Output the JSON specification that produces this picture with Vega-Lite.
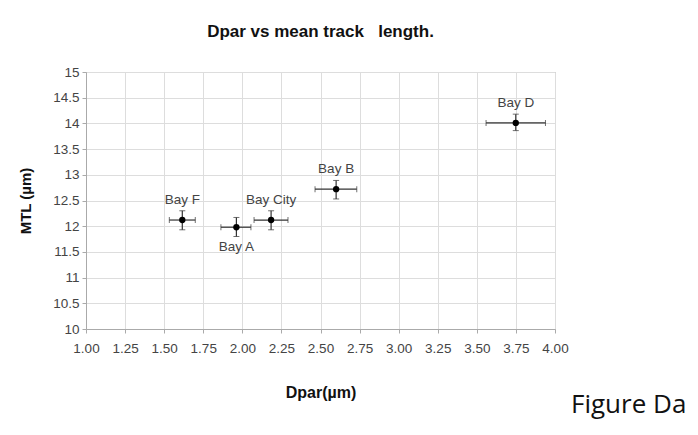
{
  "$schema": "https://vega.github.io/schema/vega-lite/v6.json",
  "autosize": "none",
  "width": 469,
  "height": 257,
  "padding": {"left": 86, "top": 72, "right": 143, "bottom": 106},
  "background": "white",
  "title": {
    "text": "Dpar vs mean track \u00a0 length.",
    "font": "Liberation Sans",
    "fontSize": 17,
    "fontWeight": "bold",
    "color": "#111",
    "anchor": "middle",
    "offset": 24
  },
  "config": {
    "view": {"stroke": "#aaa", "strokeWidth": 1},
    "axis": {
      "labelFont": "Liberation Sans",
      "labelFontSize": 13.5,
      "labelColor": "#444",
      "labelOverlap": false,
      "labelFlush": false,
      "titleFont": "Liberation Sans",
      "titleFontWeight": "bold",
      "titleColor": "#111",
      "domainColor": "#aaa",
      "tickColor": "#aaa",
      "tickSize": 4,
      "grid": true,
      "gridColor": "#ddd"
    },
    "axisX": {"titleFontSize": 16, "labelPadding": 8, "titlePadding": 30},
    "axisY": {"titleFontSize": 15, "labelPadding": 3, "titlePadding": 19}
  },
  "data": {
    "values": [
      {"name": "Bay F", "dpar": 1.616, "mtl": 12.12, "dpar_lo": 1.533, "dpar_hi": 1.699, "mtl_lo": 11.93, "mtl_hi": 12.30, "pos": "above"},
      {"name": "Bay A", "dpar": 1.962, "mtl": 11.98, "dpar_lo": 1.863, "dpar_hi": 2.055, "mtl_lo": 11.80, "mtl_hi": 12.17, "pos": "below"},
      {"name": "Bay City", "dpar": 2.184, "mtl": 12.12, "dpar_lo": 2.075, "dpar_hi": 2.292, "mtl_lo": 11.93, "mtl_hi": 12.30, "pos": "above"},
      {"name": "Bay B", "dpar": 2.600, "mtl": 12.72, "dpar_lo": 2.465, "dpar_hi": 2.732, "mtl_lo": 12.53, "mtl_hi": 12.89, "pos": "above"},
      {"name": "Bay D", "dpar": 3.749, "mtl": 14.01, "dpar_lo": 3.559, "dpar_hi": 3.939, "mtl_lo": 13.86, "mtl_hi": 14.18, "pos": "above"}
    ]
  },
  "layer": [
    {
      "mark": {"type": "errorbar", "ticks": {"size": 6, "thickness": 1, "color": "#333"}, "rule": {"color": "#333", "strokeWidth": 1.2}},
      "encoding": {
        "x": {"field": "dpar_lo", "type": "quantitative", "title": "Dpar(µm)",
              "scale": {"domain": [1, 4], "nice": false, "zero": false},
              "axis": {"values": [1, 1.25, 1.5, 1.75, 2, 2.25, 2.5, 2.75, 3, 3.25, 3.5, 3.75, 4], "format": ".2f"}},
        "x2": {"field": "dpar_hi"},
        "y": {"field": "mtl", "type": "quantitative", "title": "MTL (µm)",
              "scale": {"domain": [10, 15], "nice": false, "zero": false},
              "axis": {"values": [10, 10.5, 11, 11.5, 12, 12.5, 13, 13.5, 14, 14.5, 15], "format": "~g"}}
      }
    },
    {
      "mark": {"type": "errorbar", "ticks": {"size": 6, "thickness": 1, "color": "#333"}, "rule": {"color": "#333", "strokeWidth": 1.2}},
      "encoding": {
        "y": {"field": "mtl_lo", "type": "quantitative", "title": "MTL (µm)",
              "scale": {"domain": [10, 15], "nice": false, "zero": false},
              "axis": {"values": [10, 10.5, 11, 11.5, 12, 12.5, 13, 13.5, 14, 14.5, 15], "format": "~g"}},
        "y2": {"field": "mtl_hi"},
        "x": {"field": "dpar", "type": "quantitative", "title": "Dpar(µm)",
              "scale": {"domain": [1, 4], "nice": false, "zero": false},
              "axis": {"values": [1, 1.25, 1.5, 1.75, 2, 2.25, 2.5, 2.75, 3, 3.25, 3.5, 3.75, 4], "format": ".2f"}}
      }
    },
    {
      "mark": {"type": "point", "filled": true, "color": "black", "size": 40, "opacity": 1},
      "encoding": {
        "x": {"field": "dpar", "type": "quantitative", "title": "Dpar(µm)",
              "scale": {"domain": [1, 4], "nice": false, "zero": false},
              "axis": {"values": [1, 1.25, 1.5, 1.75, 2, 2.25, 2.5, 2.75, 3, 3.25, 3.5, 3.75, 4], "format": ".2f"}},
        "y": {"field": "mtl", "type": "quantitative", "title": "MTL (µm)",
              "scale": {"domain": [10, 15], "nice": false, "zero": false},
              "axis": {"values": [10, 10.5, 11, 11.5, 12, 12.5, 13, 13.5, 14, 14.5, 15], "format": "~g"}}
      }
    },
    {
      "transform": [{"filter": "datum.pos === 'above'"}],
      "mark": {"type": "text", "font": "Liberation Sans", "fontSize": 13.5, "color": "#444", "dy": -20, "baseline": "middle"},
      "encoding": {
        "x": {"field": "dpar", "type": "quantitative", "title": "Dpar(µm)",
              "scale": {"domain": [1, 4], "nice": false, "zero": false},
              "axis": {"values": [1, 1.25, 1.5, 1.75, 2, 2.25, 2.5, 2.75, 3, 3.25, 3.5, 3.75, 4], "format": ".2f"}},
        "y": {"field": "mtl", "type": "quantitative", "title": "MTL (µm)",
              "scale": {"domain": [10, 15], "nice": false, "zero": false},
              "axis": {"values": [10, 10.5, 11, 11.5, 12, 12.5, 13, 13.5, 14, 14.5, 15], "format": "~g"}},
        "text": {"field": "name"}
      }
    },
    {
      "transform": [{"filter": "datum.pos === 'below'"}],
      "mark": {"type": "text", "font": "Liberation Sans", "fontSize": 13.5, "color": "#444", "dy": 20, "baseline": "middle"},
      "encoding": {
        "x": {"field": "dpar", "type": "quantitative", "title": "Dpar(µm)",
              "scale": {"domain": [1, 4], "nice": false, "zero": false},
              "axis": {"values": [1, 1.25, 1.5, 1.75, 2, 2.25, 2.5, 2.75, 3, 3.25, 3.5, 3.75, 4], "format": ".2f"}},
        "y": {"field": "mtl", "type": "quantitative", "title": "MTL (µm)",
              "scale": {"domain": [10, 15], "nice": false, "zero": false},
              "axis": {"values": [10, 10.5, 11, 11.5, 12, 12.5, 13, 13.5, 14, 14.5, 15], "format": "~g"}},
        "text": {"field": "name"}
      }
    },
    {
      "data": {"values": [{"note": "Figure Da"}]},
      "mark": {"type": "text", "font": "Open Sans", "fontSize": 26, "color": "#111", "align": "left", "baseline": "middle", "dx": 16, "dy": 76, "clip": false},
      "encoding": {
        "x": {"datum": 4, "type": "quantitative", "title": "Dpar(µm)",
              "scale": {"domain": [1, 4], "nice": false, "zero": false},
              "axis": {"values": [1, 1.25, 1.5, 1.75, 2, 2.25, 2.5, 2.75, 3, 3.25, 3.5, 3.75, 4], "format": ".2f"}},
        "y": {"datum": 10, "type": "quantitative", "title": "MTL (µm)",
              "scale": {"domain": [10, 15], "nice": false, "zero": false},
              "axis": {"values": [10, 10.5, 11, 11.5, 12, 12.5, 13, 13.5, 14, 14.5, 15], "format": "~g"}},
        "text": {"field": "note"}
      }
    }
  ]
}
